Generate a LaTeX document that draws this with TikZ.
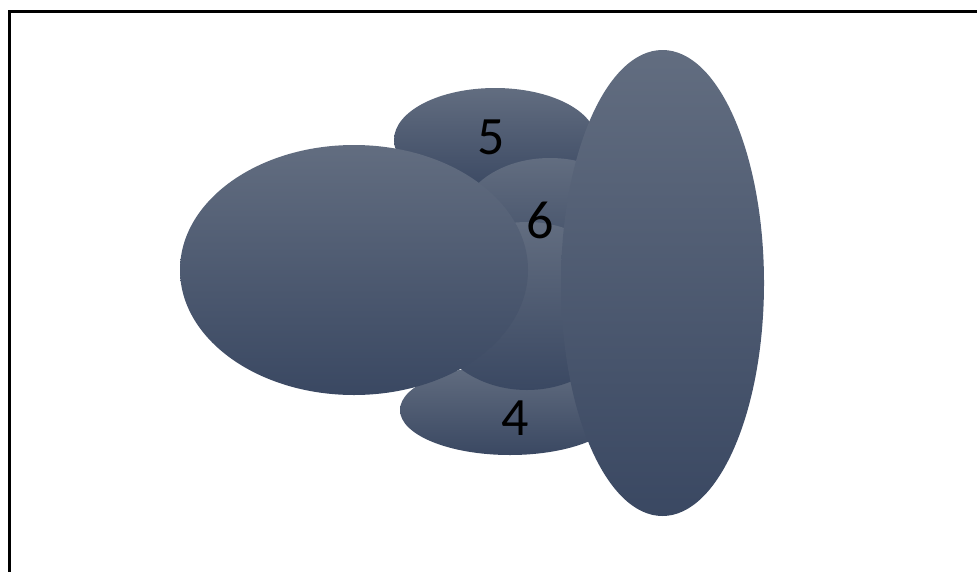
\documentclass[tikz,border=0pt]{standalone}
\usepackage{fontspec}
\setmainfont{Carlito}
\usetikzlibrary{shapes.geometric}
\definecolor{ctop}{RGB}{98,109,128}
\definecolor{cbot}{RGB}{58,72,98}
\begin{document}
\begin{tikzpicture}[x=1pt,y=-1pt,
  blob/.style={ellipse, inner sep=0pt, top color=ctop, bottom color=cbot, draw=none},
  lbl/.style={font=\fontsize{54}{54}\selectfont, text=black, inner sep=0pt}]
\useasboundingbox (0,0) rectangle (977,571);
\draw[line width=2.5pt] (9.5,11.7) rectangle (1000,600);
\node[blob, minimum width=202pt, minimum height=104pt] (e5) at (495,140) {};
\node[blob, minimum width=220pt, minimum height=90pt] (e4) at (510,410) {};
\node[blob, minimum width=180pt, minimum height=128pt] (e6) at (550,222) {};
\node[blob, minimum width=200pt, minimum height=168pt] (ec) at (527,306) {};
\node[blob, minimum width=348pt, minimum height=250pt] (big) at (354,270) {};
\node[blob, minimum width=203pt, minimum height=466pt] (tall) at (662.5,283) {};
\node[lbl] (l5) at (491,137) {5};
\node[lbl] (l6) at (540,220) {6};
\node[lbl] (l4) at (515,418) {4};
\end{tikzpicture}
\end{document}
